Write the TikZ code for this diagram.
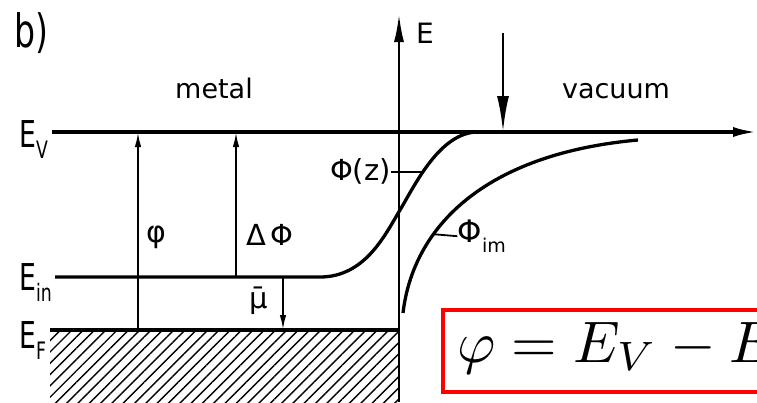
\documentclass[tikz,border=0pt]{standalone}
\usepackage{fontspec}
\setmainfont{DejaVu Sans}
\newfontfamily\narrowfont[FakeStretch=0.72]{DejaVu Sans}
\usetikzlibrary{arrows.meta, patterns.meta, calc}
\definecolor{boxRed}{HTML}{FF0000}

\newcommand{\lowsub}[1]{\raisebox{-0.55ex}{\fontsize{24}{24}\selectfont #1}}

\begin{document}
\begin{tikzpicture}[x=1pt, y=-1pt,
  level/.style={line width=3.3pt},
  thinarr/.style={line width=2pt, -{Latex[length=15pt,width=6.5pt]}},
  leader/.style={line width=1.8pt},
  lbl/.style={inner sep=0pt, font=\fontsize{27}{27}\selectfont},
  elbl/.style={inner sep=0pt, anchor=base west, font=\narrowfont\fontsize{37}{37}\selectfont}
]
\useasboundingbox (0,0) rectangle (757,402);
\begin{scope}
\clip (0,0) rectangle (757,402);

% energy levels
\coordinate (ev0) at (52,132);  \coordinate (ev1) at (757,132);
\coordinate (ein0) at (55,277); \coordinate (ein1) at (320,277);
\coordinate (ef0) at (50,330);  \coordinate (ef1) at (399,330);
\coordinate (axb) at (399,402); \coordinate (axt) at (399,14);

\fill[pattern={Lines[angle=45, distance=8pt, line width=1.4pt]}] (ef0) rectangle (axb);
\draw[level] (ef0) -- (ef1);
\draw[line width=2.4pt, -{Latex[length=28pt,width=10pt]}] (axb) -- (axt);
\draw[level, -{Latex[length=24pt,width=10pt]}] (ev0) -- (ev1);

% potential curves
\draw[level] (ein0) -- (ein1) .. controls (365,277) and (385,235) .. (400,210)
  .. controls (415,185) and (440,132) .. coordinate[pos=0.4] (zfoot) (478,132);
\draw[level] (403,313) .. controls (413,228) and (483,154) .. coordinate[pos=0.33] (imfoot) (638,140);

% arrows between levels
\coordinate (phiB) at (138,330); \coordinate (phiT) at (138,132);
\coordinate (dphiB) at (236,277); \coordinate (dphiT) at (236,132);
\coordinate (muT) at (283,277); \coordinate (muB) at (283,330);
\coordinate (vacT) at (503,33); \coordinate (vacB) at (503,132);
\draw[thinarr] (phiB) -- (phiT);
\draw[thinarr] (dphiB) -- (dphiT);
\draw[thinarr] (muT) -- (muB);
\draw[line width=2.8pt, -{Latex[length=36pt,width=12pt]}] (vacT) -- (vacB);

% labels
\node[inner sep=0pt, anchor=base west, font=\narrowfont\fontsize{46}{46}\selectfont] (tag) at (14,47) {b)};
\node[lbl, anchor=base west, font=\fontsize{28}{28}\selectfont] (elab) at (416,43) {E};
\node[lbl, anchor=base] (metal) at (214,98) {metal};
\node[lbl, anchor=base] (vacuum) at (616,98) {vacuum};
\node[elbl] (evlab) at (19,147) {E\lowsub{V}};
\node[elbl] (einlab) at (19,290) {E\lowsub{in}};
\node[elbl] (eflab) at (19,348) {E\lowsub{F}};
\node[lbl, anchor=base west, font=\fontsize{30}{30}\selectfont] (philab) at (146,242) {φ};
\node[lbl, anchor=base west, font=\fontsize{29}{29}\selectfont] (dphilab) at (246,245) {Δ\,Φ};
\node[lbl, anchor=base west, font=\fontsize{29}{29}\selectfont] (mulab) at (249,308) {\=μ};
\node[lbl, anchor=east, font=\fontsize{29}{29}\selectfont] (zlab) at ($(zfoot)+(-32,0)$) {Φ(z)};
\node[lbl, anchor=west, font=\fontsize{31}{31}\selectfont] (imlab) at ($(imfoot)+(24,2)$) {Φ\lowsub{\fontsize{19}{19}\selectfont im}};
\draw[leader] (zlab.east) -- (zfoot);
\draw[leader] (imfoot) -- (imlab.west);

% formula box
\draw[boxRed, line width=3.5pt] (443,310) rectangle (820,392);
\node[inner sep=0pt, anchor=base west, scale=5.86] (formula) at (456,362) {$\varphi = E_V - E_F$};
\end{scope}
\end{tikzpicture}
\end{document}
